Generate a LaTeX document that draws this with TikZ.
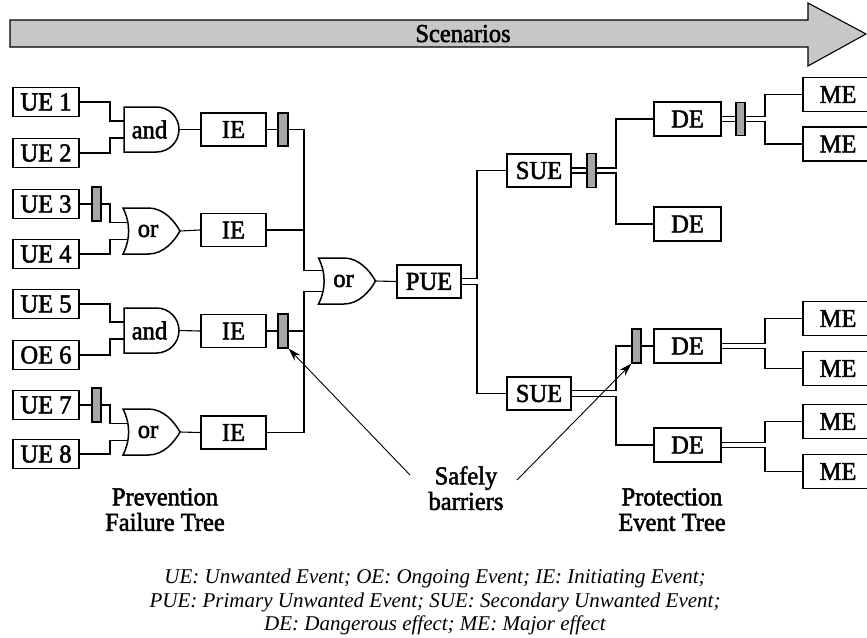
\documentclass[tikz,border=0pt]{standalone}
\usepackage{fontspec}
\setmainfont{Liberation Serif}
\newfontfamily\lblfont[FakeBold=2,FakeStretch=0.95]{Liberation Serif}
\usetikzlibrary{calc,arrows.meta}
\pgfdeclarelayer{background}
\pgfsetlayers{background,main}

\tikzset{
  lbl/.style={font=\lblfont\fontsize{25.8}{25.5}\selectfont},
  evbox/.style={draw, line width=1.6pt, fill=white, inner sep=0pt,
    minimum width=64pt, minimum height=33pt, lbl},
  uebox/.style={evbox, minimum width=66pt, minimum height=29pt},
  debox/.style={evbox, minimum width=67pt, minimum height=34pt},
  mebox/.style={evbox, minimum width=70pt, minimum height=34pt},
  barrier/.style={draw, line width=1.1pt, fill=black!35, inner sep=0pt,
    minimum width=9pt, minimum height=34pt},
  wire/.style={line width=1.1pt},
  pointer/.style={line width=0.9pt, -{Stealth[length=13pt,width=8pt]}},
  gate/.style={draw, line width=1.5pt, fill=white},
  andgate/.pic={
    \draw[gate] (-27.5,-22.5) -- (5,-22.5)
      arc[start angle=-90,end angle=90,radius=22.5] -- (-27.5,22.5) -- cycle;
    \coordinate (-in1) at (-27.5,-8.5);
    \coordinate (-in2) at (-27.5,8.5);
    \coordinate (-out) at (27.5,0);
    \node[lbl] (-txt) at (-2,0) {and};
  },
  orgate/.pic={
    \draw[gate] (-28.5,-23) -- (-3,-23) .. controls (12,-23) and (23,-10) .. (28.5,0)
      .. controls (23,10) and (12,23) .. (-3,23) -- (-28.5,23)
      .. controls (-21,8) and (-21,-8) .. (-28.5,-23) -- cycle;
    \coordinate (-in1) at (-24,-#1);
    \coordinate (-in2) at (-24,#1);
    \coordinate (-out) at (28.5,0);
    \node[lbl] (-txt) at (-3.5,0) {or};
  },
}

\begin{document}
\begin{tikzpicture}[x=1pt,y=-1pt]
\useasboundingbox (0,0) rectangle (867,637);

% scenario arrow
\draw[line width=1.1pt, fill=black!22] (10,20) -- (808,20) -- (808,3) -- (866,34)
  -- (808,66) -- (808,47) -- (10,47) -- cycle;
\node[lbl, anchor=base] (scen) at (463,42) {Scenarios};

% prevention side: events, gates, initiating events
\node[uebox] (ue1) at (46,102) {UE 1};
\node[uebox] (ue2) at (46,153) {UE 2};
\node[uebox] (ue3) at (46,204) {UE 3};
\node[uebox] (ue4) at (46,254) {UE 4};
\node[uebox] (ue5) at (46,304) {UE 5};
\node[uebox] (oe6) at (46,355) {OE 6};
\node[uebox] (ue7) at (46,405) {UE 7};
\node[uebox] (ue8) at (46,454) {UE 8};

\pic (g1) at (151.5,129.5) {andgate};
\pic (g2) at (151.5,231) {orgate=8.5};
\pic (g3) at (151.5,330.5) {andgate};
\pic (g4) at (151.5,432) {orgate=8.5};
\pic (g5) at (347,281) {orgate=10.5};

\node[evbox, minimum width=65pt] (ie1) at (233.5,129.5) {IE};
\node[evbox, minimum width=65pt] (ie2) at (233.5,230) {IE};
\node[evbox, minimum width=65pt] (ie3) at (233.5,331) {IE};
\node[evbox, minimum width=65pt] (ie4) at (233.5,432.5) {IE};

\node[evbox] (pue) at (429,281.5) {PUE};

% protection side
\node[evbox] (sue1) at (539,170.5) {SUE};
\node[evbox] (sue2) at (539,393.5) {SUE};
\node[debox] (de1) at (687.5,119) {DE};
\node[debox] (de2) at (687.5,224) {DE};
\node[debox] (de3) at (687.5,346) {DE};
\node[debox] (de4) at (687.5,445) {DE};
\node[mebox] (me1) at (838,94.5) {ME};
\node[mebox] (me2) at (838,144) {ME};
\node[mebox] (me3) at (838,318.5) {ME};
\node[mebox] (me4) at (838,368.5) {ME};
\node[mebox] (me5) at (838,421.5) {ME};
\node[mebox] (me6) at (838,471.5) {ME};

% safety barriers
\node[barrier] (b1) at (96.5,204) {};
\node[barrier] (b2) at (96.5,405) {};
\node[barrier, minimum width=10pt, minimum height=33pt] (b3) at (283,129.5) {};
\node[barrier, minimum width=10pt] (b4) at (283,331) {};
\node[barrier] (b5) at (591.5,170.5) {};
\node[barrier] (b6) at (636.5,346) {};
\node[barrier, minimum height=33pt] (b7) at (740.5,119) {};

% junction columns
\coordinate (jl) at (110,0);
\coordinate (jt) at (304,0);
\coordinate (jp) at (477,0);
\coordinate (js) at (616,0);
\coordinate (jd) at (765,0);

\begin{pgfonlayer}{background}
  \draw[wire] (ue1.east) -| (jl |- g1-in1) -- (g1-in1);
  \draw[wire] (ue2.east) -| (jl |- g1-in2) -- (g1-in2);
  \draw[wire] (ue3.east) -| (jl |- g2-in1) -- (g2-in1);
  \draw[wire] (ue4.east) -| (jl |- g2-in2) -- (g2-in2);
  \draw[wire] (ue5.east) -| (jl |- g3-in1) -- (g3-in1);
  \draw[wire] (oe6.east) -| (jl |- g3-in2) -- (g3-in2);
  \draw[wire] (ue7.east) -| (jl |- g4-in1) -- (g4-in1);
  \draw[wire] (ue8.east) -| (jl |- g4-in2) -- (g4-in2);

  \draw[wire] (g1-out) -- (ie1.west);
  \draw[wire] (g2-out) -- (ie2.west);
  \draw[wire] (g3-out) -- (ie3.west);
  \draw[wire] (g4-out) -- (ie4.west);

  \draw[wire] (ie1.east) -| (jt |- g5-in1) -- (g5-in1);
  \draw[wire] (ie2.east) -- (jt |- ie2.east);
  \draw[wire] (ie3.east) -- (jt |- ie3.east);
  \draw[wire] (ie4.east) -| (jt |- g5-in2) -- (g5-in2);
  \draw[wire] (g5-out) -- (pue.west);

  \draw[wire] ($(pue.east)+(0,-3)$) -| (jp |- sue1.west) -- (sue1.west);
  \draw[wire] ($(pue.east)+(0,3)$) -| (jp |- sue2.west) -- (sue2.west);

  \draw[wire] ($(sue1.east)+(0,-2.5)$) -| (js |- de1.west) -- (de1.west);
  \draw[wire] ($(sue1.east)+(0,2.5)$) -| (js |- de2.west) -- (de2.west);
  \draw[wire] ($(sue2.east)+(0,-3)$) -| (js |- b6.west) -- (b6.west);
  \draw[wire] (b6.east) -- (de3.west);
  \draw[wire] ($(sue2.east)+(0,3)$) -| (js |- de4.west) -- (de4.west);

  \draw[wire] ($(de1.east)+(0,-2.5)$) -| (jd |- me1.west) -- (me1.west);
  \draw[wire] ($(de1.east)+(0,2.5)$) -| (jd |- me2.west) -- (me2.west);
  \draw[wire] ($(de3.east)+(0,-2.5)$) -| (jd |- me3.west) -- (me3.west);
  \draw[wire] ($(de3.east)+(0,2.5)$) -| (jd |- me4.west) -- (me4.west);
  \draw[wire] ($(de4.east)+(0,-2.5)$) -| (jd |- me5.west) -- (me5.west);
  \draw[wire] ($(de4.east)+(0,2.5)$) -| (jd |- me6.west) -- (me6.west);
\end{pgfonlayer}

% labels
\node[lbl, align=center, anchor=north, inner sep=0pt] (sb) at (466,466) {Safely\\barriers};
\coordinate (sbL) at (410,475);
\coordinate (sbR) at (517,480);
\draw[pointer] (sbL) -- (b4.south east);
\draw[pointer] (sbR) -- (b6.south west);

\node[lbl, align=center, anchor=north, inner sep=0pt] (prev) at (165,488) {Prevention\\Failure Tree};
\node[lbl, align=center, anchor=north, inner sep=0pt] (prot) at (672,488) {Protection\\Event Tree};

\node[font=\fontsize{21}{23.5}\selectfont\itshape, align=center, anchor=north, inner sep=0pt] (legend) at (435,569)
  {UE: Unwanted Event; OE: Ongoing Event; IE: Initiating Event;\\
   PUE: Primary Unwanted Event; SUE: Secondary Unwanted Event;\\
   DE: Dangerous effect; ME: Major effect};
\end{tikzpicture}
\end{document}
